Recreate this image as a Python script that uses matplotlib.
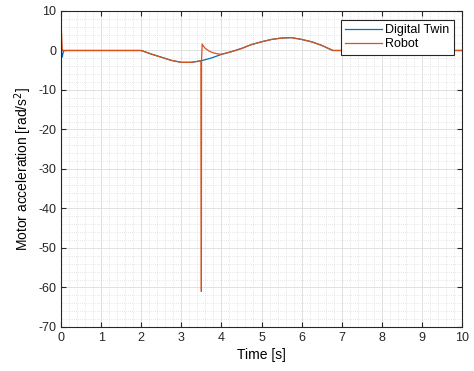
import numpy as np
import matplotlib.pyplot as plt
from matplotlib.ticker import MultipleLocator

plt.rcParams.update({
    "font.family": ["Liberation Sans", "DejaVu Sans"],
    "font.size": 9,
    "axes.unicode_minus": False,
    "axes.linewidth": 0.8,
    "axes.edgecolor": "#262626",
    "xtick.direction": "in",
    "ytick.direction": "in",
    "xtick.top": True,
    "ytick.right": True,
    "xtick.major.size": 3.5,
    "ytick.major.size": 3.5,
    "xtick.minor.size": 0,
    "ytick.minor.size": 0,
    "xtick.color": "#262626",
    "ytick.color": "#262626",
})

# digital twin motor acceleration [rad/s^2]
t_twin = [0.0, 0.015, 0.03, 0.06, 0.1, 2.0, 2.25, 2.5, 2.75, 3.0, 3.25, 3.5,
          3.75, 4.0, 4.25, 4.5, 4.75, 5.0, 5.25, 5.5, 5.75, 6.0, 6.25, 6.5,
          6.78, 10.0]
a_twin = [0.0, -0.5, -1.7, -0.2, 0.0, 0.0, -0.9, -1.7, -2.5, -3.0, -3.0, -2.6,
          -1.9, -1.0, -0.3, 0.5, 1.5, 2.2, 2.8, 3.15, 3.25, 2.8, 2.2, 1.3,
          0.0, 0.0]

# measured robot motor acceleration [rad/s^2]
t_robot = [0.0, 0.01, 0.03, 0.05, 0.1, 2.0, 2.25, 2.5, 2.75, 3.0, 3.25, 3.49,
           3.5, 3.505, 3.52, 3.55, 3.6, 3.7, 3.8, 3.9, 4.0, 4.1, 4.25, 4.5,
           4.75, 5.0, 5.25, 5.5, 5.75, 6.0, 6.25, 6.5, 6.78, 10.0]
a_robot = [0.0, 5.2, 0.3, 0.0, 0.0, 0.0, -0.9, -1.7, -2.5, -3.0, -3.0, -2.6,
           -61.0, -2.6, 1.65, 1.1, 0.5, -0.2, -0.6, -0.85, -0.95, -0.7, -0.3, 0.5,
           1.5, 2.2, 2.8, 3.15, 3.25, 2.8, 2.2, 1.3, 0.0, 0.0]

fig = plt.figure(figsize=(4.74, 3.71), dpi=100)
ax = fig.add_axes([0.1287, 0.1186, 0.846, 0.8518])

ax.plot(t_twin, a_twin, color="#0072BD", lw=0.9, label="Digital Twin")
ax.plot(t_robot, a_robot, color="#D95319", lw=0.9, label="Robot")

ax.set_xlim(0, 10)
ax.set_ylim(-70, 10)
ax.xaxis.set_major_locator(MultipleLocator(1))
ax.yaxis.set_major_locator(MultipleLocator(10))
ax.xaxis.set_minor_locator(MultipleLocator(0.2))
ax.yaxis.set_minor_locator(MultipleLocator(2))

ax.grid(which="major", color="#dcdcdc", lw=0.6)
ax.grid(which="minor", color="#d0d0d0", lw=0.5, linestyle=(0, (1, 2)))
ax.set_axisbelow(True)

ax.set_xlabel("Time [s]", fontsize=10, labelpad=3)
ax.set_ylabel("Motor acceleration [rad/s$^2$]", fontsize=10, labelpad=3)

leg = ax.legend(loc="upper right", bbox_to_anchor=(0.98, 0.9715), borderaxespad=0,
                fancybox=False, edgecolor="#262626", framealpha=1, fontsize=9,
                handlelength=2.9, borderpad=0.35, labelspacing=0.15,
                handletextpad=0.3)
leg.get_frame().set_linewidth(0.8)

fig.savefig("out.png", dpi=100)
